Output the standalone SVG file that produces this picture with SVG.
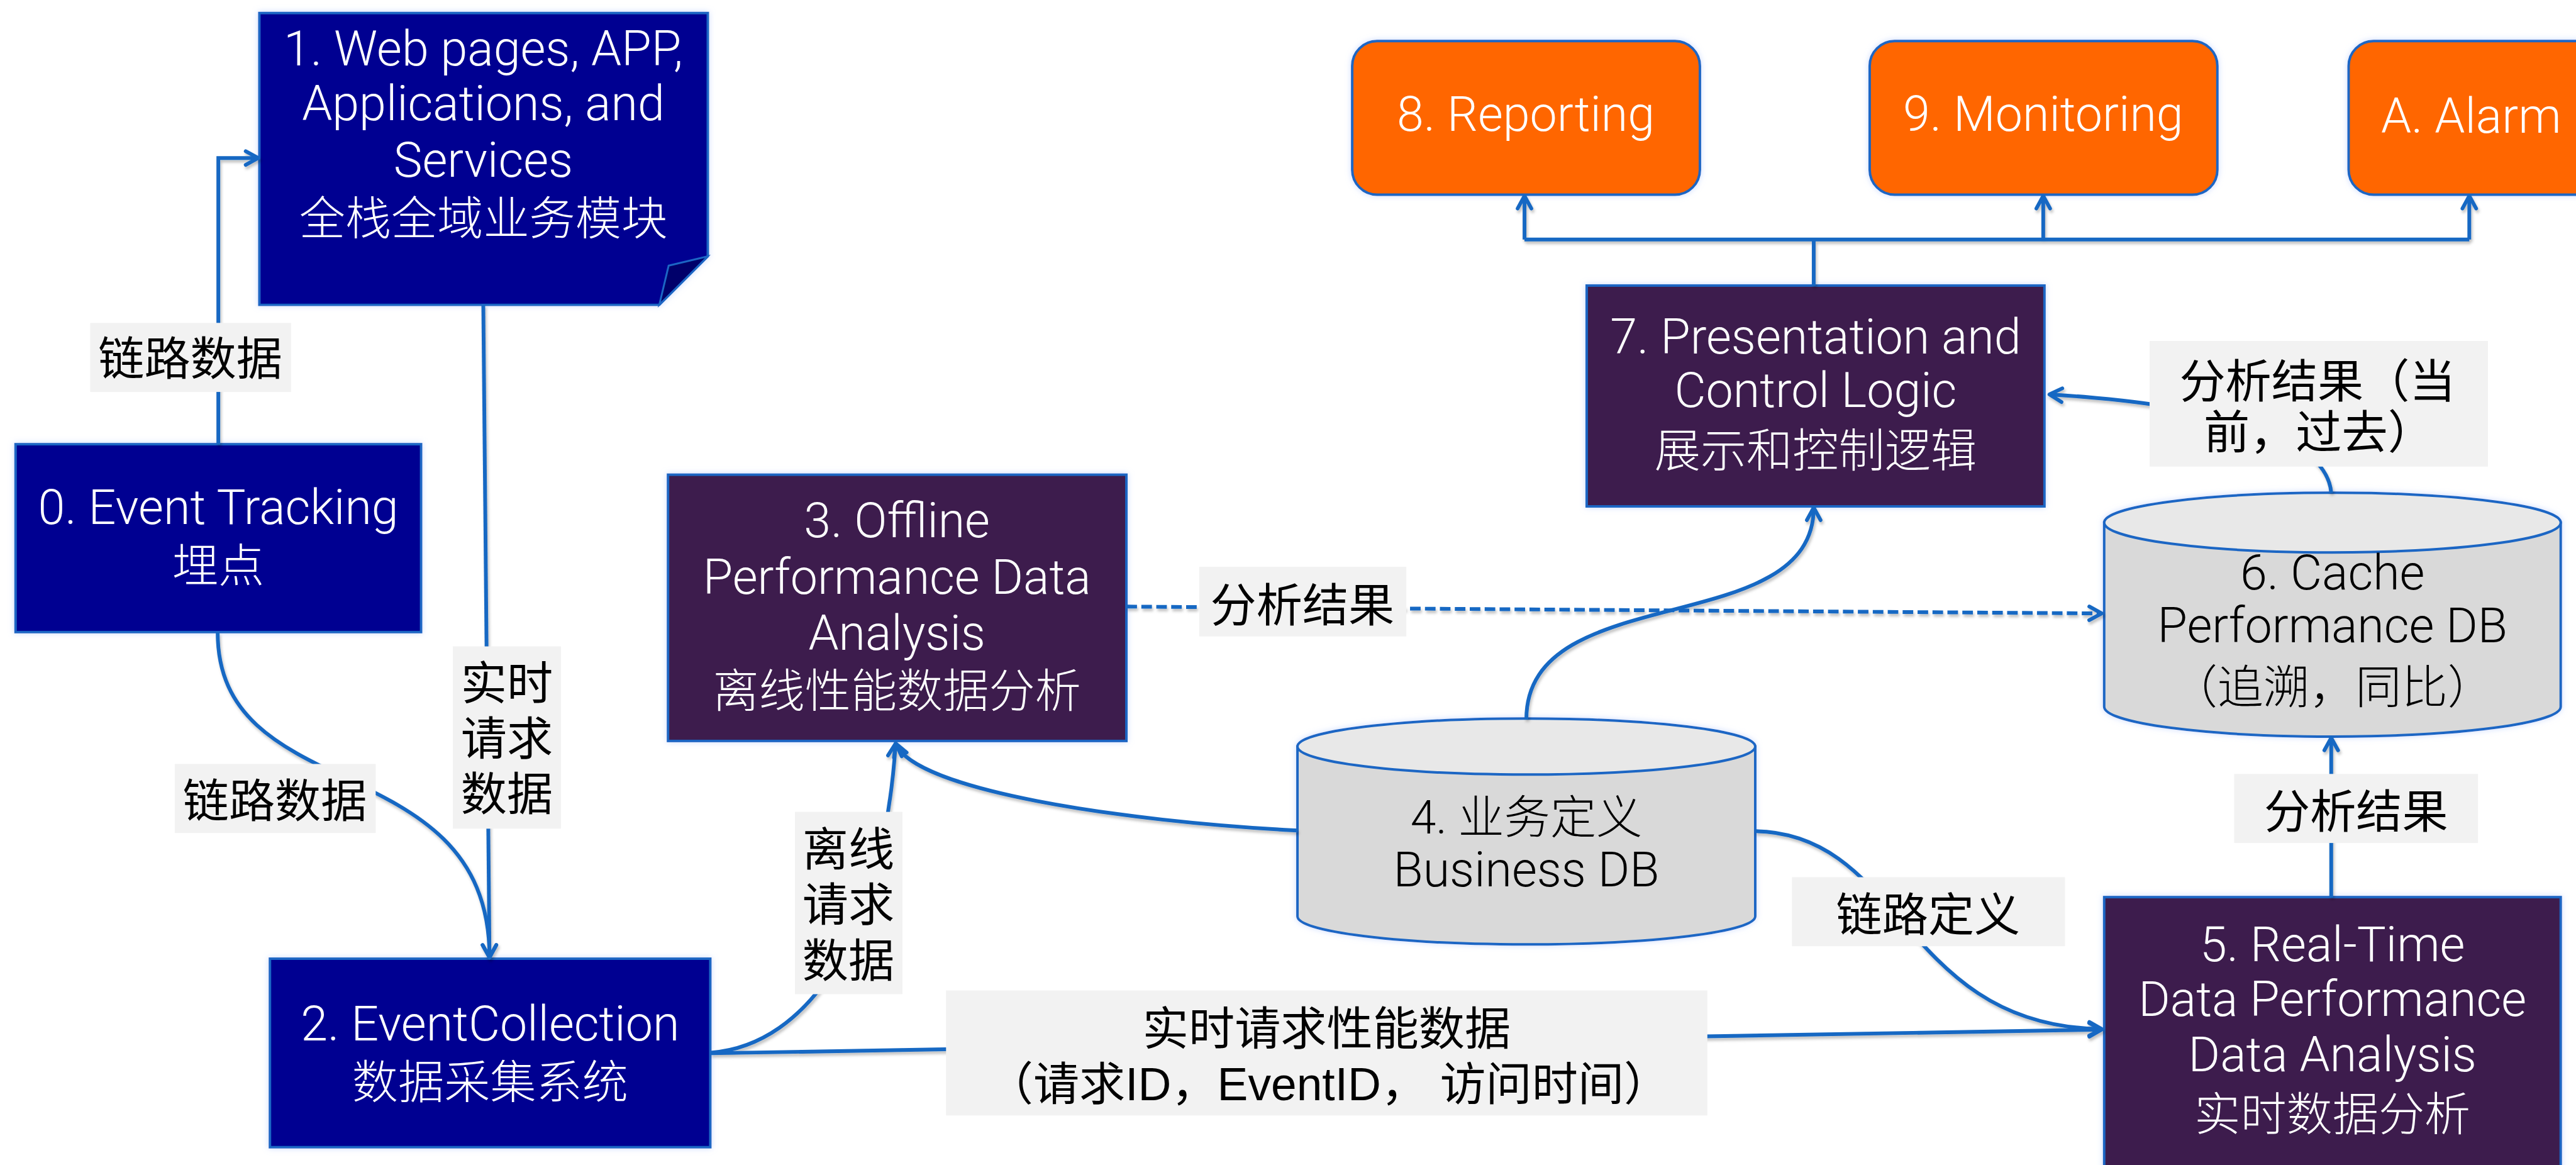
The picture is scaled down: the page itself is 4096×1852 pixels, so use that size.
<svg xmlns="http://www.w3.org/2000/svg" width="4096" height="1852" viewBox="0 0 4096 1852">
  <defs>
    <style>
      .navy { fill: #000091; stroke: #1a66c4; stroke-width: 4; }
      .fold { fill: #00006a; stroke: #1a66c4; stroke-width: 3; }
      .purple { fill: #3c1f4e; stroke: #1a66c4; stroke-width: 4; }
      .orange { fill: #ff6600; stroke: #1a66c4; stroke-width: 4; }
      .cylbody { fill: #d9d9d9; stroke: #1a66c4; stroke-width: 4; }
      .cyltop { fill: #e8e8e8; stroke: #1a66c4; stroke-width: 4; }
      .t { font-family: Roboto, "Liberation Sans", "Noto Sans CJK SC", sans-serif; font-weight: 300; font-size: 78px; text-anchor: middle; }
      .cn { font-size: 74px; }
      .w { fill: #ffffff; }
      .k { fill: #000000; }
      .conn { fill: none; stroke: #1567c3; stroke-width: 6; }
      .dash { stroke-dasharray: 17 7; }
      .lblbg { fill: #f2f2f2; }
      .lbl { font-family: "Liberation Sans", "Noto Sans CJK SC", sans-serif; font-size: 74px; fill: #000000; text-anchor: middle; }
    </style>
    <marker id="arr" markerUnits="userSpaceOnUse" markerWidth="40" markerHeight="40" viewBox="-30 -20 40 40" refX="0" refY="0" orient="auto">
      <path d="M-20,-11 L0,0 L-20,11" fill="none" stroke="#1567c3" stroke-width="6" stroke-linecap="round" stroke-linejoin="round"/>
    </marker>
    <filter id="glow" x="-10%" y="-10%" width="120%" height="120%">
      <feDropShadow dx="0" dy="0" stdDeviation="5" flood-color="#a9c2ff" flood-opacity="0.6"/>
    </filter>
    <filter id="shade" x="-5%" y="-5%" width="110%" height="110%">
      <feDropShadow dx="2" dy="4" stdDeviation="2" flood-color="#000000" flood-opacity="0.25"/>
    </filter>
  </defs>

  <rect x="0" y="0" width="4096" height="1852" fill="#ffffff"/>

  <g transform="scale(0.989)">
    <g id="nodes" filter="url(#glow)">
      <g id="node-0">
        <rect class="navy" x="25" y="714" width="652" height="302"/>
        <text class="t w" x="351" y="842">0. Event Tracking</text>
        <text class="t cn w" x="351" y="935">埋点</text>
      </g>

      <g id="node-1">
        <path class="navy" d="M417,21 L1138,21 L1138,412 L1060,490 L417,490 Z"/>
        <path class="fold" d="M1138,412 L1075,427 L1060,490 Z"/>
        <text class="t w" x="777" y="105">1. Web pages, APP,</text>
        <text class="t w" x="777" y="193">Applications, and</text>
        <text class="t w" x="777" y="284">Services</text>
        <text class="t cn w" x="777" y="377">全栈全域业务模块</text>
      </g>

      <g id="node-2">
        <rect class="navy" x="434" y="1541" width="708" height="303"/>
        <text class="t w" x="788" y="1672">2. EventCollection</text>
        <text class="t cn w" x="788" y="1765">数据采集系统</text>
      </g>

      <g id="node-3">
        <rect class="purple" x="1074" y="763" width="737" height="428"/>
        <text class="t w" x="1442" y="864">3. Offline</text>
        <text class="t w" x="1442" y="954">Performance Data</text>
        <text class="t w" x="1442" y="1044">Analysis</text>
        <text class="t cn w" x="1442" y="1137">离线性能数据分析</text>
      </g>

      <g id="node-4">
        <path class="cylbody" d="M2086,1200 L2086,1473 A368,45 0 0 0 2822,1473 L2822,1200 Z"/>
        <ellipse class="cyltop" cx="2454" cy="1200" rx="368" ry="45"/>
        <text class="t cn k" x="2454" y="1340">4. 业务定义</text>
        <text class="t k" x="2454" y="1425">Business DB</text>
      </g>

      <g id="node-5">
        <rect class="purple" x="3383" y="1442" width="734" height="450"/>
        <text class="t w" x="3750" y="1545">5. Real-Time</text>
        <text class="t w" x="3750" y="1633">Data Performance</text>
        <text class="t w" x="3750" y="1722">Data Analysis</text>
        <text class="t cn w" x="3750" y="1817">实时数据分析</text>
      </g>

      <g id="node-6">
        <path class="cylbody" d="M3383,840 L3383,1136 A367,48 0 0 0 4117,1136 L4117,840 Z"/>
        <ellipse class="cyltop" cx="3750" cy="840" rx="367" ry="48"/>
        <text class="t k" x="3750" y="947">6. Cache</text>
        <text class="t k" x="3750" y="1032">Performance DB</text>
        <text class="t cn k" x="3750" y="1130">（追溯，同比）</text>
      </g>

      <g id="node-7">
        <rect class="purple" x="2551" y="459" width="736" height="355"/>
        <text class="t w" x="2919" y="568">7. Presentation and</text>
        <text class="t w" x="2919" y="654">Control Logic</text>
        <text class="t cn w" x="2919" y="750">展示和控制逻辑</text>
      </g>

      <g id="node-8">
        <rect class="orange" x="2174" y="66" width="559" height="247" rx="40" ry="40"/>
        <text class="t w" x="2453" y="210">8. Reporting</text>
      </g>

      <g id="node-9">
        <rect class="orange" x="3006" y="66" width="559" height="247" rx="40" ry="40"/>
        <text class="t w" x="3285" y="210">9. Monitoring</text>
      </g>

      <g id="node-a">
        <rect class="orange" x="3776" y="66" width="559" height="247" rx="40" ry="40"/>
        <text class="t w" x="3828" y="213" style="text-anchor:start">A. Alarm</text>
      </g>
    </g>

    <g id="connectors">
      <g filter="url(#shade)">
        <!-- 0 -> 1 -->
        <path class="conn" d="M351,714 L351,254 L415,254" marker-end="url(#arr)"/>
        <!-- 0 -> 2 -->
        <path class="conn" d="M350,1017 C350,1300 787,1200 787,1539" marker-end="url(#arr)"/>
        <!-- 1 -> 2 -->
        <path class="conn" d="M777,490 L787,1539" marker-end="url(#arr)"/>
        <!-- 2 -> 3 -->
        <path class="conn" d="M1143,1692 C1300,1680 1420,1500 1440,1195" marker-end="url(#arr)"/>
        <!-- 4 -> 3 -->
        <path class="conn" d="M2086,1335 C1800,1320 1470,1270 1440,1195" marker-end="url(#arr)"/>
        <!-- 2 -> 5 -->
        <path class="conn" d="M1143,1693 L3379,1655" marker-end="url(#arr)"/>
        <!-- 3 -> 6 -->
        <path class="conn dash" d="M1811,975 L3379,986" marker-end="url(#arr)"/>
        <!-- 4 -> 7 -->
        <path class="conn" d="M2454,1156 C2454,930 2916,1030 2916,816" marker-end="url(#arr)"/>
        <!-- 4 -> 5 -->
        <path class="conn" d="M2822,1336 C3060,1340 3060,1650 3379,1654" marker-end="url(#arr)"/>
        <!-- 5 -> 6 -->
        <path class="conn" d="M3748,1442 L3748,1186" marker-end="url(#arr)"/>
        <!-- 6 -> 7 -->
        <path class="conn" d="M3748,792 C3740,700 3560,650 3295,634" marker-end="url(#arr)"/>
        <!-- 7 -> 8, 9, A -->
        <path class="conn" d="M2916,459 L2916,385 M2451,385 L3970,385"/>
        <path class="conn" d="M2451,385 L2451,315" marker-end="url(#arr)"/>
        <path class="conn" d="M3285,385 L3285,315" marker-end="url(#arr)"/>
        <path class="conn" d="M3970,385 L3970,315" marker-end="url(#arr)"/>
      </g>

      <!-- connector labels -->
      <g id="label-0-1">
        <rect class="lblbg" x="145" y="519" width="323" height="111"/>
        <text class="lbl" x="306" y="603">链路数据</text>
      </g>
      <g id="label-0-2">
        <rect class="lblbg" x="281" y="1228" width="323" height="111"/>
        <text class="lbl" x="442" y="1313">链路数据</text>
      </g>
      <g id="label-1-2">
        <rect class="lblbg" x="728" y="1039" width="174" height="293"/>
        <text class="lbl" x="815" y="1124">实时</text>
        <text class="lbl" x="815" y="1213">请求</text>
        <text class="lbl" x="815" y="1302">数据</text>
      </g>
      <g id="label-2-3">
        <rect class="lblbg" x="1278" y="1305" width="173" height="293"/>
        <text class="lbl" x="1364" y="1391">离线</text>
        <text class="lbl" x="1364" y="1480">请求</text>
        <text class="lbl" x="1364" y="1570">数据</text>
      </g>
      <g id="label-3-6">
        <rect class="lblbg" x="1928" y="911" width="333" height="112"/>
        <text class="lbl" x="2094" y="999">分析结果</text>
      </g>
      <g id="label-2-5">
        <rect class="lblbg" x="1521" y="1592" width="1224" height="201"/>
        <text class="lbl" x="2133" y="1679">实时请求性能数据</text>
        <text class="lbl" x="2136" y="1768">（请求ID，EventID， 访问时间）</text>
      </g>
      <g id="label-4-5">
        <rect class="lblbg" x="2881" y="1410" width="439" height="111"/>
        <text class="lbl" x="3100" y="1496">链路定义</text>
      </g>
      <g id="label-5-6">
        <rect class="lblbg" x="3592" y="1244" width="392" height="111"/>
        <text class="lbl" x="3788" y="1331">分析结果</text>
      </g>
      <g id="label-6-7">
        <rect class="lblbg" x="3456" y="548" width="544" height="202"/>
        <text class="lbl" x="3504" y="639" style="text-anchor:start">分析结果（当</text>
        <text class="lbl" x="3543" y="721" style="text-anchor:start">前，过去）</text>
      </g>
    </g>
  </g>
</svg>
